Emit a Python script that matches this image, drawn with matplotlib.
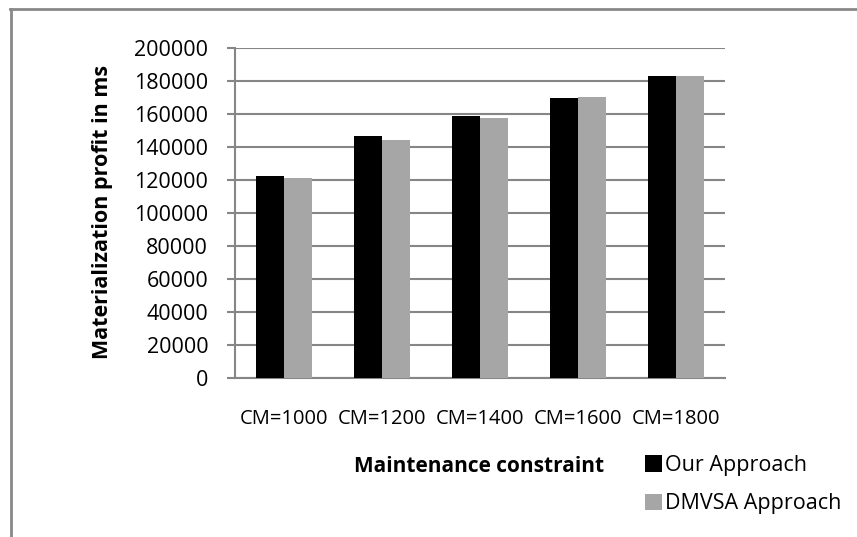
import numpy as np
import matplotlib
matplotlib.use("Agg")
import matplotlib.pyplot as plt

categories = ["CM=1000", "CM=1200", "CM=1400", "CM=1600", "CM=1800"]
our_approach = [122600, 146900, 158800, 169500, 182800]
dmvsa_approach = [121400, 144400, 157400, 170100, 183200]
series_names = ["Our Approach", "DMVSA Approach"]
y_ticks = list(range(0, 200001, 20000))

plt.rcParams['font.family'] = ['Open Sans', 'DejaVu Sans']
W, H = 857, 537
fig = plt.figure(figsize=(W / 100, H / 100), dpi=100)

# plot area placed to match the reference (pixel based)
ax = fig.add_axes([235 / W, 1 - 378 / H, (725 - 235) / W, (378 - 48) / H])

x = np.arange(len(categories))
bw = 0.283
ax.bar(x - bw / 2, our_approach, bw, color='black', label=series_names[0], zorder=3)
ax.bar(x + bw / 2, dmvsa_approach, bw, color='#a6a6a6', label=series_names[1], zorder=3)

ax.set_xlim(-0.5, len(categories) - 0.5)
ax.set_ylim(0, 200000)
ax.set_yticks(y_ticks)
ax.set_yticklabels([str(t) for t in y_ticks], fontsize=15.5)
ax.set_xticks(x)
ax.set_xticklabels(categories, fontsize=14.5)
ax.tick_params(axis='x', length=0, pad=22)
ax.tick_params(axis='y', length=5.8, width=1.5, color='#868686', pad=13.5)
ax.yaxis.grid(True, color='#868686', linewidth=1.5, zorder=0)

for s in ['top', 'right']:
    ax.spines[s].set_visible(False)
for s in ['left', 'bottom']:
    ax.spines[s].set_color('#868686')
    ax.spines[s].set_linewidth(1.5)

ax.set_ylabel("Materialization profit in ms", fontsize=15.5, fontweight='bold', va='center')
ax.yaxis.set_label_coords((102 - 235) / 490, (378 - 212) / 330)
fig.text(479.5 / W, 1 - 466 / H, "Maintenance constraint", fontsize=15,
         fontweight='bold', ha='center', va='center')

fig.legend(loc='upper left', bbox_to_anchor=(645 / W, 1 - 455 / H), frameon=False,
           fontsize=15.5, handlelength=0.8, handleheight=0.8, handletextpad=0.15,
           labelspacing=0.8, borderaxespad=0, borderpad=0)

# outer frame (only top and left edges visible in the reference)
fig.add_artist(plt.Line2D([11 / W, 11 / W], [0, 1 - 9 / H], transform=fig.transFigure,
                          color='#898989', linewidth=2))
fig.add_artist(plt.Line2D([10 / W, 1], [1 - 9 / H, 1 - 9 / H], transform=fig.transFigure,
                          color='#898989', linewidth=2))

fig.savefig("out.png", dpi=100)
